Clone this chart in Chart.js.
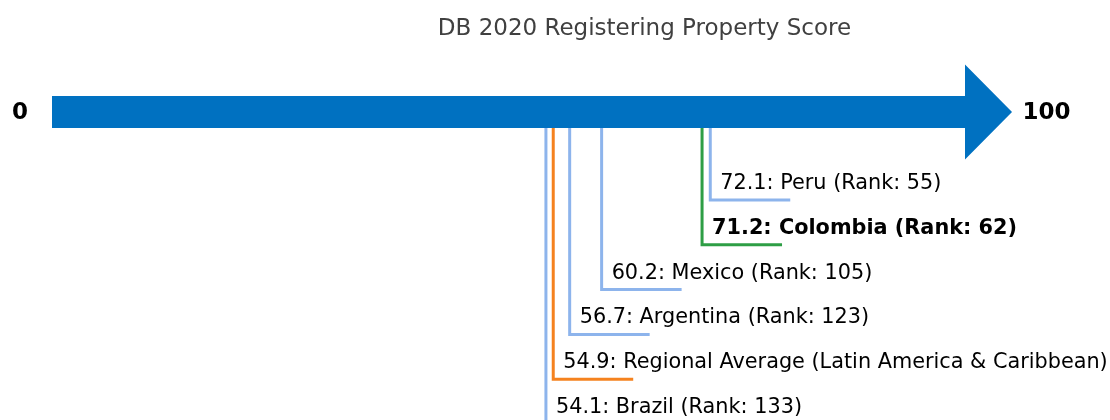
<!DOCTYPE html>
<html>
<head>
<meta charset="utf-8">
<script src="https://cdn.jsdelivr.net/npm/chart.js@4"></script>
<style>
  html, body { margin: 0; padding: 0; background: #fff; }
  #wrap { width: 1110px; height: 420px; }
</style>
</head>
<body>
<div id="wrap"><canvas id="chart"></canvas></div>
<script>
const countries = ["Peru", "Colombia", "Mexico", "Argentina", "Regional Average", "Brazil"];
const scores = [72.1, 71.2, 60.2, 56.7, 54.9, 54.1];
const ranks = [55, 62, 105, 123, null, 133];
const notes = ["", "", "", "", "Latin America & Caribbean", ""];
const axisTicks = [0, 100];
const title = "DB 2020 Registering Property Score";

const colors = ["#8db4ec", "#2e9e45", "#8db4ec", "#8db4ec", "#f5821f", "#8db4ec"];
const bold = [false, true, false, false, false, false];

// y is in pixel-like units (0 top, 420 bottom)
const lineTop = 128;
const firstLevel = 200;
const levelStep = 44.8;
const stubLen = 8.76;

function labelText(i) {
  if (ranks[i] == null) return scores[i].toFixed(1) + ": " + countries[i] + " (" + notes[i] + ")";
  return scores[i].toFixed(1) + ": " + countries[i] + " (Rank: " + ranks[i] + ")";
}

const datasets = countries.map((c, i) => {
  const lvl = firstLevel + i * levelStep;
  return {
    label: c,
    data: [
      { x: scores[i], y: lineTop },
      { x: scores[i], y: lvl },
      { x: scores[i] + stubLen, y: lvl }
    ],
    borderColor: colors[i],
    borderWidth: 3,
    pointRadius: 0,
    showLine: true,
    fill: false,
    tension: 0
  };
});

const arrowPlugin = {
  id: "arrow",
  beforeDatasetsDraw(chart) {
    const ctx = chart.ctx;
    const xs = chart.scales.x, ys = chart.scales.y;
    const x0 = xs.getPixelForValue(axisTicks[0]);
    const x1 = xs.getPixelForValue(axisTicks[1]);
    const tip = xs.getPixelForValue(105.15);
    ctx.save();
    ctx.fillStyle = "#0071c1";
    ctx.beginPath();
    ctx.moveTo(x0, ys.getPixelForValue(96));
    ctx.lineTo(x1, ys.getPixelForValue(96));
    ctx.lineTo(x1, ys.getPixelForValue(64.5));
    ctx.lineTo(tip, ys.getPixelForValue(112));
    ctx.lineTo(x1, ys.getPixelForValue(159.5));
    ctx.lineTo(x1, ys.getPixelForValue(128));
    ctx.lineTo(x0, ys.getPixelForValue(128));
    ctx.closePath();
    ctx.fill();
    ctx.restore();
  },
  afterDraw(chart) {
    const ctx = chart.ctx;
    const xs = chart.scales.x, ys = chart.scales.y;
    ctx.save();
    ctx.textBaseline = "middle";
    // title
    ctx.fillStyle = "#404040";
    ctx.font = "23px 'DejaVu Sans'";
    ctx.textAlign = "center";
    ctx.fillText(title, 644.5, 29);
    // end labels
    ctx.fillStyle = "#000";
    ctx.font = "bold 23px 'DejaVu Sans'";
    ctx.textAlign = "center";
    ctx.fillText(String(axisTicks[0]), 20, ys.getPixelForValue(113));
    ctx.textAlign = "left";
    ctx.fillText(String(axisTicks[1]), xs.getPixelForValue(106.3), ys.getPixelForValue(113));
    // annotations
    ctx.textBaseline = "alphabetic";
    countries.forEach((c, i) => {
      const lvl = firstLevel + i * levelStep;
      ctx.font = (bold[i] ? "bold " : "") + "20.8px 'DejaVu Sans'";
      ctx.fillStyle = "#000";
      ctx.fillText(labelText(i), xs.getPixelForValue(scores[i]) + 10, ys.getPixelForValue(lvl) - 11);
    });
    ctx.restore();
  }
};

new Chart(document.getElementById("chart"), {
  type: "scatter",
  data: { datasets: datasets },
  options: {
    responsive: true,
    maintainAspectRatio: false,
    animation: false,
    layout: { padding: 0 },
    plugins: {
      legend: { display: false },
      tooltip: { enabled: false },
      title: { display: false }
    },
    scales: {
      x: { type: "linear", min: -52 / 9.13, max: (1110 - 52) / 9.13, display: false },
      y: { type: "linear", min: 0, max: 420, reverse: true, display: false }
    }
  },
  plugins: [arrowPlugin]
});
</script>
</body>
</html>
